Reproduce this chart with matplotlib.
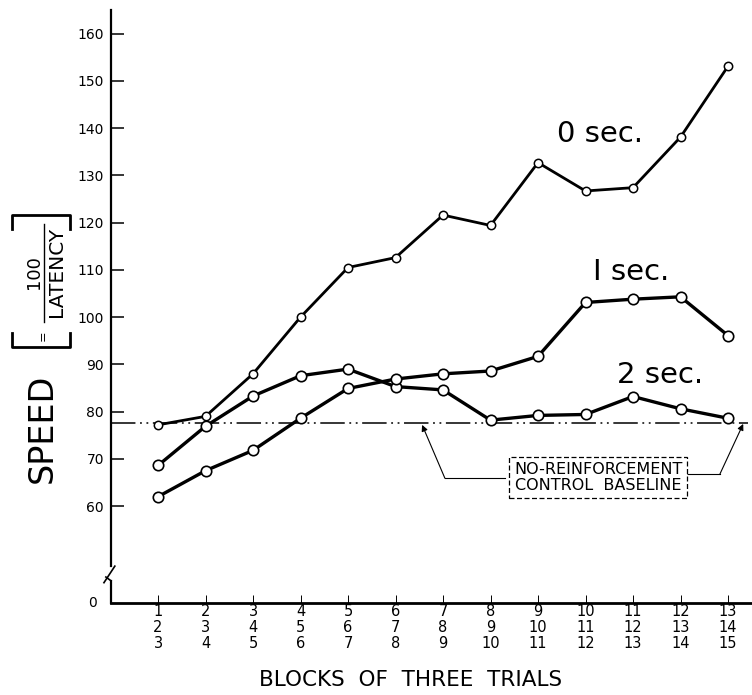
import numpy as np
import matplotlib
matplotlib.use("Agg")
from matplotlib import pyplot as plt
from matplotlib.lines import Line2D

# Datos
bloques = np.arange(1, 14)
etiquetas_x = [f"{i}\n{i + 1}\n{i + 2}" for i in bloques]
cero_seg = [77.2, 79.0, 88.0, 100.0, 110.5, 112.6, 121.6, 119.4, 132.7, 126.7, 127.4, 138.1, 153.1]
dos_seg = [68.6, 76.9, 83.3, 87.6, 89.0, 85.3, 84.6, 78.2, 79.2, 79.4, 83.2, 80.6, 78.6]
uno_seg = [62.0, 67.5, 71.8, 78.6, 84.9, 86.9, 88.0, 88.6, 91.7, 103.1, 103.8, 104.3, 96.1]
base = 77.6
yticks = [60, 70, 80, 90, 100, 110, 120, 130, 140, 150, 160]

W, H = 752, 695
fig = plt.figure(figsize=(W / 100, H / 100), dpi=100)
ax = fig.add_axes([111 / W, 1 - 603 / H, (W - 111) / W, (603 - 10) / H])


def px(x, y):
    # pixel (desde arriba a la izquierda) -> coordenadas de figura
    return x / W, 1 - y / H


# Series
ax.plot(bloques, cero_seg, color="black", lw=2.0, marker="o", ms=6,
        mfc="white", mec="black", mew=1.1, zorder=3)
ax.plot(bloques, dos_seg, color="black", lw=2.4, marker="o", ms=7.5,
        mfc="white", mec="black", mew=1.2, zorder=3)
ax.plot(bloques, uno_seg, color="black", lw=2.4, marker="o", ms=7.5,
        mfc="white", mec="black", mew=1.2, zorder=3)

# Linea base (raya-punto-punto)
ax.axhline(base, xmin=0, xmax=0.993, color="black", lw=1.1,
           dashes=(16, 3, 1.2, 3, 1.2, 3), zorder=2)

# Etiquetas de las series
ax.text(10.3, 138.8, "0 sec.", fontsize=21, ha="center", va="center")
ax.text(10.96, 109.6, "I sec.", fontsize=21, ha="center", va="center")
ax.text(11.57, 87.7, "2 sec.", fontsize=21, ha="center", va="center")

# Caja de la linea base con sus flechas
ax.text(10.27, 66.1, "NO-REINFORCEMENT\nCONTROL  BASELINE", fontsize=11.5,
        ha="center", va="center", linespacing=1.1,
        bbox=dict(boxstyle="square,pad=0.3", fc="white", ec="black",
                  ls=(0, (4, 2)), lw=0.9))
ax.plot([8.3, 7.04], [65.9, 65.9], color="black", lw=0.8)
ax.annotate("", xy=(6.56, base - 0.4), xytext=(7.04, 65.9),
            arrowprops=dict(arrowstyle="-|>", lw=0.8, color="black",
                            mutation_scale=9, shrinkA=0, shrinkB=0))
ax.plot([12.08, 12.83], [66.8, 66.8], color="black", lw=0.8)
ax.annotate("", xy=(13.32, base - 0.2), xytext=(12.83, 66.8),
            arrowprops=dict(arrowstyle="-|>", lw=0.8, color="black",
                            mutation_scale=9, shrinkA=0, shrinkB=0))

# Ejes
ax.set_xlim(0.0105, 13.505)
ax.set_ylim(39.5, 165)
ax.set_yticks(yticks)
ax.set_yticklabels([str(v) for v in yticks], fontsize=10)
ax.set_xticks(bloques)
ax.set_xticklabels(etiquetas_x, fontsize=10.5, linespacing=1.05)
ax.tick_params(axis="y", direction="in", length=9, width=1.1, pad=5)
ax.tick_params(axis="x", direction="in", length=6, width=0.7, pad=1)
for s in ["top", "right"]:
    ax.spines[s].set_visible(False)
ax.spines["bottom"].set_linewidth(2.0)
ax.spines["left"].set_linewidth(1.6)
ax.spines["left"].set_bounds(47.3, 165)

# Corte del eje vertical
yt = ax.get_yaxis_transform()
ax.plot([0, 0], [39.5, 44.2], color="black", lw=1.6, transform=yt, clip_on=False)
ax.plot([0, -0.008], [44.2, 45.0], color="black", lw=1.2, transform=yt, clip_on=False)
ax.plot([-0.011, 0.006], [43.8, 47.3], color="black", lw=1.2, transform=yt, clip_on=False)
ax.text(-0.022, 39.5, "0", fontsize=10, ha="right", va="center", transform=yt)

# Titulos
fig.text(*px(411, 680), "BLOCKS  OF  THREE  TRIALS", fontsize=15.5,
         ha="center", va="center")
fig.text(*px(42, 428), "SPEED", fontsize=24, rotation=90,
         ha="center", va="center")
fig.text(*px(34, 272), "100", fontsize=13, rotation=90, ha="center", va="center")
fig.text(*px(56, 272), "LATENCY", fontsize=14.5, rotation=90,
         ha="center", va="center")
fig.text(*px(43, 336), "=", fontsize=9, rotation=90, ha="center", va="center")

# Corchete y raya de fraccion
corchetes = [
    [(12, 229), (12, 215), (70, 215), (70, 229)],
    [(12, 333), (12, 347), (70, 347), (70, 333)],
    [(44, 224), (44, 322)],
]
for c in corchetes:
    xs, ys = zip(*[px(x, y) for x, y in c])
    fig.add_artist(Line2D(xs, ys, color="black",
                          lw=1.0 if len(c) == 2 else 2.0))

fig.savefig("out.png", dpi=100)
